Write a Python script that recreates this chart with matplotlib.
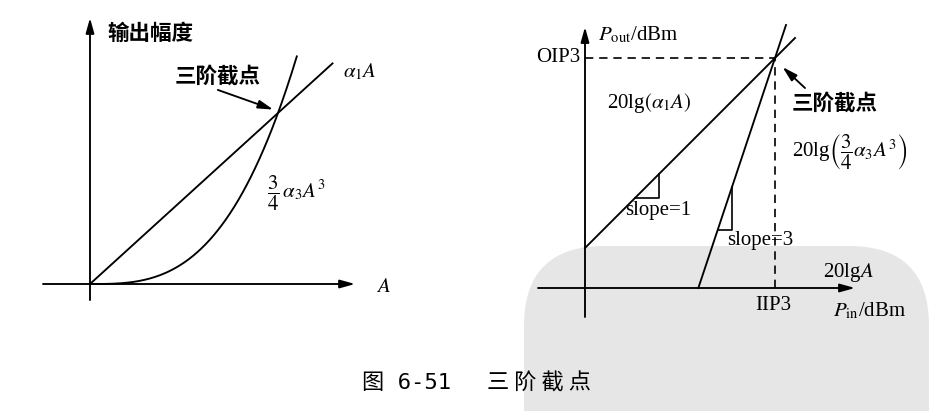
"""Third-order intercept point diagram (figure 6-51)"""
import matplotlib
matplotlib.use("Agg")
import matplotlib.pyplot as plt
import numpy as np
from matplotlib.patches import FancyBboxPatch

plt.rcParams["font.family"] = ["Liberation Serif", "Noto Sans CJK SC"]
plt.rcParams["mathtext.fontset"] = "stix"

CJK = ["Noto Sans CJK SC", "DejaVu Sans"]
LW = 1.35

# left panel: linear amplitude
ALPHA1 = 1.0          # slope of a1*A
CUBIC_K = 1.0         # 3/4 * a3
A_LINE_END = 1.29
A_CUBIC_END = 1.1

# right panel: dB plot
GAIN_DB = 4.0         # 20lg(a1)
IIP3 = 19.0
OIP3 = 23.0
PIN_LINEAR_END = 21.0
PIN_CUBIC_END = 20.1
TRI1_X = [5.0, 7.4]
TRI3_X = [13.27, 14.7]

fig = plt.figure(figsize=(9.51, 4.11), dpi=100)

# watermark blob from the scan
fig.patches.append(FancyBboxPatch((524, -80), 405, 245, boxstyle="round,pad=0,rounding_size=80",
                                  transform=None, facecolor="#e6e6e6", edgecolor="none", zorder=-5))

HEAD = "-|>,head_length=0.9,head_width=0.25"


def arrow(ax, start, end):
    ax.annotate("", xy=end, xytext=start,
                arrowprops=dict(arrowstyle=HEAD, lw=LW, color="black", shrinkA=0, shrinkB=0))


# ---------- left panel ----------
ax1 = fig.add_axes([0, 81 / 411, 420 / 951, 330 / 411])
ax1.set_xlim(-90 / 188, 330 / 188)
ax1.set_ylim(-46 / 171, 284 / 171)
ax1.axis("off")
ax1.set_zorder(2)

arrow(ax1, (-0.25, 0), (1.41, 0))
arrow(ax1, (0, -0.094), (0, 1.556))

amp = np.linspace(0, A_LINE_END, 2)
ax1.plot(amp, ALPHA1 * amp, color="black", lw=LW)
amp3 = np.linspace(0, A_CUBIC_END, 200)
ax1.plot(amp3, CUBIC_K * amp3 ** 3, color="black", lw=LW)

ax1.text(0.09, 1.468, "输出幅度", family=CJK, fontsize=15.5, weight="bold", va="center")
ax1.text(0.45, 1.215, "三阶截点", family=CJK, fontsize=15.5, weight="bold", va="center")
arrow(ax1, (0.68, 1.135), (0.975, 1.02))
ax1.text(1.346, 1.24, r"$\alpha_1A$", fontsize=15, va="center")
ax1.text(0.94, 0.53, r"$\dfrac{3}{4}\,\alpha_3A^3$", fontsize=15, va="center")
ax1.text(1.52, -0.02, r"$A$", fontsize=15, va="center")

# ---------- right panel ----------
ax2 = fig.add_axes([500 / 951, 81 / 411, 451 / 951, 330 / 411])
ax2.set_xlim(-8.5, 36.6)
ax2.set_ylim(-4.2, 28.8)
ax2.axis("off")
ax2.set_zorder(2)

arrow(ax2, (-4.7, 0), (27.0, 0))
arrow(ax2, (0, -2.9), (0, 26.1))

pin1 = np.array([0, PIN_LINEAR_END])
ax2.plot(pin1, pin1 + GAIN_DB, color="black", lw=LW)
pin3_start = IIP3 - OIP3 / 3
pin3 = np.array([pin3_start, PIN_CUBIC_END])
ax2.plot(pin3, 3 * (pin3 - pin3_start), color="black", lw=LW)

ax2.plot([0, IIP3], [OIP3, OIP3], color="black", lw=1.2, ls=(0, (5, 3.5)))
ax2.plot([IIP3, IIP3], [0, OIP3], color="black", lw=1.2, ls=(0, (5, 3.5)))

# slope triangles
x0, x1 = TRI1_X
ax2.plot([x0, x1, x1], [x0 + GAIN_DB, x0 + GAIN_DB, x1 + GAIN_DB], color="black", lw=1.2)
x0, x1 = TRI3_X
y0 = 3 * (x0 - pin3_start)
ax2.plot([x0, x1, x1], [y0, y0, 3 * (x1 - pin3_start)], color="black", lw=1.2)

arrow(ax2, (22.0, 20.0), (19.75, 22.1))

ax2.text(1.3, 25.3, r"$P_{\rm out}$/dBm", fontsize=15, va="center")
ax2.text(-0.5, OIP3, "OIP3", fontsize=15, va="center", ha="right")
ax2.text(IIP3 - 0.2, -1.7, "IIP3", fontsize=15, va="center", ha="center")
ax2.text(24.8, -2.3, r"$P_{\rm in}$/dBm", fontsize=15, va="center")
ax2.text(2.2, 18.5, r"20lg$(\alpha_1A)$", fontsize=15, va="center")
ax2.text(20.7, 18.5, "三阶截点", family=CJK, fontsize=15.5, weight="bold", va="center")
ax2.text(20.7, 13.6, r"20lg$\left(\dfrac{3}{4}\alpha_3A^3\right)$", fontsize=15, va="center")
ax2.text(4.0, 7.8, "slope=1", fontsize=15, va="center")
ax2.text(14.2, 4.8, "slope=3", fontsize=15, va="center")
ax2.text(23.8, 1.6, r"20lg$A$", fontsize=15, va="center")

fig.text(362 / 951, 1 - 383 / 411, "图 6-51", family=["DejaVu Sans Mono", "Noto Sans CJK SC"],
         fontsize=16, ha="left", va="center")
fig.text(487 / 951, 1 - 383 / 411, "三 阶 截 点", family=CJK, fontsize=16, ha="left", va="center")

fig.savefig("out.png", dpi=100)
print("Saved out.png")
